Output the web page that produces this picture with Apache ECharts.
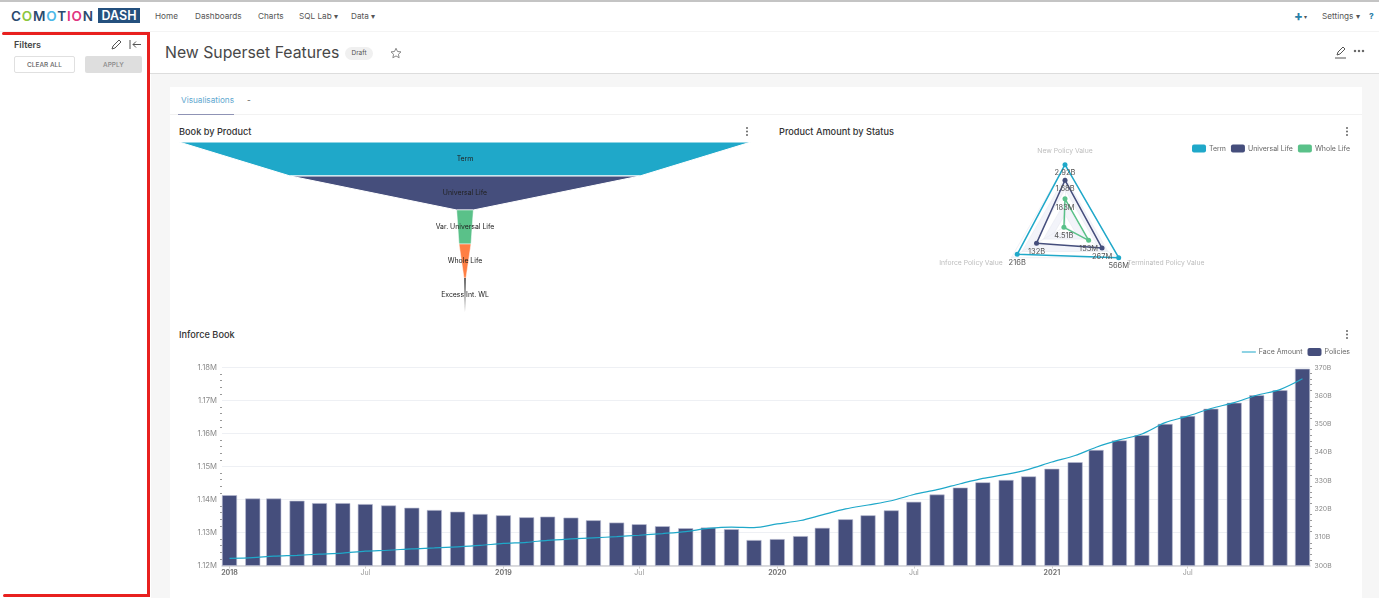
<!DOCTYPE html>
<html><head><meta charset="utf-8">
<script src="https://cdn.jsdelivr.net/npm/echarts@6/dist/echarts.min.js"></script>
<style>
html,body{margin:0;padding:0;width:1379px;height:598px;overflow:hidden;background:#fff;font-family:Inter,"Noto Sans",sans-serif;color:#484848}
.a{position:absolute;white-space:nowrap}
#chart{position:absolute;left:0;top:0;width:1379px;height:598px}
.nav{font-size:8.2px;top:11px;color:#555}
.ttl{font-size:9.2px;font-weight:500;color:#333}
</style></head><body>
<div class="a" style="left:0;top:0;width:1379px;height:2px;background:#c4c4c4"></div>
<div class="a" style="left:0;top:31px;width:1379px;height:1px;background:#f4f4f4"></div>
<div class="a" style="left:150px;top:32px;width:1229px;height:41px;background:#fff;border-bottom:1px solid #ddd"></div>
<div class="a" style="left:151px;top:74px;width:1228px;height:524px;background:#f6f6f6"></div>
<div class="a" style="left:170px;top:87px;width:1192px;height:511px;background:#fff"></div>
<div class="a" style="left:170px;top:114px;width:1192px;height:1px;background:#f2f2f2"></div>
<div class="a" style="left:178px;top:114px;width:56px;height:1px;background:#8f93b5"></div>

<div class="a" style="left:11px;top:8px;font-size:13.5px;font-weight:600;letter-spacing:.85px;color:#2b4a6f"><span>C</span><span style="color:#8cc63f">O</span><span>M</span><span style="color:#4db8e8">O</span><span>T</span><span style="color:#e0357f">I</span><span style="color:#e0357f">O</span><span>N</span></div>
<div class="a" style="left:98px;top:8px;width:42px;height:15px;line-height:15px;background:#24507e;color:#fff;font-size:12.5px;font-weight:600;text-align:center">DASH</div>
<div class="a nav" style="left:155px">Home</div>
<div class="a nav" style="left:195px">Dashboards</div>
<div class="a nav" style="left:258px">Charts</div>
<div class="a nav" style="left:299px">SQL Lab ▾</div>
<div class="a nav" style="left:351px">Data ▾</div>
<div class="a" style="left:1294px;top:8px;font-size:13px;font-weight:800;color:#2b7fa8">+</div>
<div class="a nav" style="left:1304px;font-size:6px;top:13px">▾</div>
<div class="a nav" style="left:1322px">Settings ▾</div>
<div class="a nav" style="left:1369px;font-weight:800;color:#2b7fa8">?</div>

<div class="a" style="left:14px;top:39px;font-size:9px;font-weight:600;color:#444">Filters</div>
<svg class="a" style="left:110px;top:38px" width="32" height="13" viewBox="0 0 32 13" fill="none" stroke="#555" stroke-width="1"><path d="M2 11l1-3 6-6 2 2-6 6z"/><path d="M20 2v9M31 6.500h-8M26 3.500l-3 3 3 3"/></svg>
<div class="a" style="left:14px;top:56px;width:59px;height:15px;line-height:16px;border:1px solid #e0e0e0;border-radius:2px;font-size:6.5px;font-weight:500;text-align:center;color:#666">CLEAR ALL</div>
<div class="a" style="left:85px;top:56px;width:57px;height:17px;line-height:18px;background:#dedede;border-radius:2px;font-size:6.5px;font-weight:500;text-align:center;color:#888">APPLY</div>

<div class="a" style="left:165px;top:43px;font-size:15.8px;color:#484848">New Superset Features</div>
<div class="a" style="left:345px;top:47px;width:28px;height:13px;line-height:13px;border-radius:7px;background:#f0f0f0;border:0;font-size:6.5px;text-align:center;color:#555">Draft</div>
<svg class="a" style="left:390px;top:47px" width="12" height="12" viewBox="0 0 24 24" fill="none" stroke="#888" stroke-width="2"><path d="M12 2.500l3 6.500 7 .8-5.200 4.700 1.500 7L12 17.900 5.700 21.500l1.500-7L2 9.800 9 9z"/></svg>
<svg class="a" style="left:1334px;top:46px" width="34" height="13" viewBox="0 0 34 13" fill="none" stroke="#555" stroke-width="1"><path d="M3 9l1-3 5-5 2 2-5 5zM1 12h11"/><circle cx="21" cy="5" r=".8" fill="#555"/><circle cx="25" cy="5" r=".8" fill="#555"/><circle cx="29" cy="5" r=".8" fill="#555"/></svg>

<div class="a" style="left:181px;top:95px;font-size:8.2px;color:#5fa8cf">Visualisations</div>
<div class="a" style="left:247px;top:95px;font-size:8.2px;color:#555">-</div>
<div class="a ttl" style="left:179px;top:126px">Book by Product</div>
<div class="a ttl" style="left:779px;top:126px">Product Amount by Status</div>
<div class="a ttl" style="left:179px;top:329px">Inforce Book</div>
<svg class="a" style="left:745px;top:126px" width="4" height="11"><g fill="#666"><circle cx="2" cy="2" r="1"/><circle cx="2" cy="5.500" r="1"/><circle cx="2" cy="9" r="1"/></g></svg>
<svg class="a" style="left:1345px;top:126px" width="4" height="11"><g fill="#666"><circle cx="2" cy="2" r="1"/><circle cx="2" cy="5.500" r="1"/><circle cx="2" cy="9" r="1"/></g></svg>
<svg class="a" style="left:1345px;top:329px" width="4" height="11"><g fill="#666"><circle cx="2" cy="2" r="1"/><circle cx="2" cy="5.500" r="1"/><circle cx="2" cy="9" r="1"/></g></svg>

<div id="chart"></div>

<div class="a" style="left:2px;top:32px;width:148px;height:3px;background:#e8201f;border-radius:2px"></div>
<div class="a" style="left:147px;top:32px;width:3px;height:565px;background:#e8201f"></div>
<div class="a" style="left:3px;top:594px;width:147px;height:3px;background:#e8201f;border-radius:2px"></div>

<script>
const months = ['2018/01/01','2018/02/01','2018/03/01','2018/04/01','2018/05/01','2018/06/01','2018/07/01','2018/08/01','2018/09/01','2018/10/01','2018/11/01','2018/12/01',
'2019/01/01','2019/02/01','2019/03/01','2019/04/01','2019/05/01','2019/06/01','2019/07/01','2019/08/01','2019/09/01','2019/10/01','2019/11/01','2019/12/01',
'2020/01/01','2020/02/01','2020/03/01','2020/04/01','2020/05/01','2020/06/01','2020/07/01','2020/08/01','2020/09/01','2020/10/01','2020/11/01','2020/12/01',
'2021/01/01','2021/02/01','2021/03/01','2021/04/01','2021/05/01','2021/06/01','2021/07/01','2021/08/01','2021/09/01','2021/10/01','2021/11/01','2021/12/01'];
const policies = [1141300,1140300,1140300,1139600,1138900,1138900,1138600,1138200,1137500,1136800,1136300,1135600,
1135200,1134600,1134800,1134500,1133700,1133000,1132500,1131900,1131300,1131500,1131000,1127700,
1128000,1128900,1131400,1134000,1135200,1136700,1139300,1141500,1143600,1145200,1145900,1147000,
1149300,1151300,1155000,1157900,1159500,1162900,1165300,1167500,1169300,1171600,1173100,1179600];
const faceAmountB = [302.5,302.8,303.3,303.6,304.0,304.4,305.1,305.4,305.9,306.2,306.6,307.1,
307.8,308.2,308.9,309.4,309.8,310.2,310.7,311.3,312.0,313.1,313.6,313.4,
314.7,315.9,317.9,320.0,321.4,322.9,325.1,326.8,328.9,330.8,332.2,334.0,
336.6,338.9,341.8,344.4,346.5,350.5,352.8,355.5,357.6,360.2,362.2,366.0];
const xTickDates = ['2018/01/01','2018/07/01','2019/01/01','2019/07/01','2020/01/01','2020/07/01','2021/01/01','2021/07/01'];
const xTickLabels = ['2018','Jul','2019','Jul','2020','Jul','2021','Jul'];

const funnelNames = ['Term','Universal Life','Var. Universal Life','Whole Life','Excess Int. WL'];
const funnelValuesB = [216,132,6.3,4.51,0.75];
const funnelColors = ['#1FA8C9','#454E7C','#5AC189','#FF7F44','#666666'];

const radarIndicators = ['New Policy Value','Inforce Policy Value','Terminated Policy Value'];
const radarNames = ['Term','Universal Life','Whole Life'];
const radarColors = ['#1FA8C9','#454E7C','#5AC189'];
const termShare = [100,89,100];
const universalShare = [75,53,69];
const wholeShare = [45,2,44];
const termLabels = ['2.92B','216B','566M'];
const universalLabels = ['1.68B','132B','267M'];
const wholeLabels = ['183M','4.51B','153M'];

const font = 'Inter, "Noto Sans", sans-serif';
const ts = s => new Date(s).getTime();
const tickTimes = xTickDates.map(ts);
const chart = echarts.init(document.getElementById('chart'), null, {renderer:'canvas'});
const radarSeriesData = [[termShare,termLabels],[universalShare,universalLabels],[wholeShare,wholeLabels]].map((p,i)=>({
  name: radarNames[i], value: p[0],
  itemStyle:{color:radarColors[i]}, lineStyle:{color:radarColors[i],width:1.5},
  label:{show:true,position:'bottom',distance:2,fontSize:7.5,fontFamily:font,color:'#555',
    formatter:q=>p[1][q.dimensionIndex]}
}));
const legendText = {fontSize:7,color:'#666',fontFamily:font,padding:[0,0,0,-2]};
chart.setOption({
  animation:false, backgroundColor:'transparent', textStyle:{fontFamily:font},
  legend:[
    {data:radarNames.map(n=>({name:n,icon:'roundRect'})),right:29,top:144.500,padding:0,itemWidth:14,itemHeight:8,itemGap:5,itemStyle:{borderWidth:0},lineStyle:{width:0},textStyle:legendText},
    {data:[{name:'Face Amount',icon:'path://M0 3.400H14V4.600H0ZM0 0H.01V8H0Z'},{name:'Policies',icon:'roundRect'}],right:29,top:348,padding:0,itemWidth:14,itemHeight:8,itemGap:5,itemStyle:{borderWidth:0},textStyle:legendText}
  ],
  grid:{left:222,right:69,top:367.5,height:198},
  xAxis:{type:'value',min:ts('2017/12/22'),max:ts('2021/12/11'),scale:true,
    axisLine:{show:true,onZero:false,lineStyle:{color:'#cfcfd4',width:1.5}},
    axisTick:{show:true,length:3,lineStyle:{color:'#ccc'},customValues:tickTimes},
    splitLine:{show:false},minorTick:{show:false},
    axisLabel:{customValues:tickTimes,margin:4,fontSize:7,color:'#999',hideOverlap:false,showMinLabel:true,showMaxLabel:true,
      formatter:v=>{const l=xTickLabels[tickTimes.indexOf(v)]||'';return l==='Jul'?l:'{y|'+l+'}';},
      rich:{y:{fontSize:7,fontWeight:700,color:'#777',fontFamily:font}}}},
  yAxis:[
    {type:'value',min:1120000,max:1180000,interval:10000,position:'left',
     axisLine:{show:false},axisTick:{show:false},minorTick:{show:true,splitNumber:5,length:2,lineStyle:{color:'#999'}},
     splitLine:{lineStyle:{color:'#eef0f4',width:1}},
     axisLabel:{margin:5,fontSize:7.7,color:'#8a8a8a',formatter:v=>(v/1e6).toFixed(2)+'M'}},
    {type:'value',min:300,max:370,interval:10,position:'right',
     axisLine:{show:false},axisTick:{show:false},minorTick:{show:true,splitNumber:5,length:2,lineStyle:{color:'#999'}},
     splitLine:{show:false},
     axisLabel:{margin:4.5,fontSize:6.8,color:'#8a8a8a',formatter:v=>v+'B'}}
  ],
  radar:{center:[1065,226.7],radius:62,shape:'polygon',splitNumber:5,startAngle:90,
    indicator:radarIndicators.map(n=>({name:n,max:100,min:0})),
    axisName:{color:'#bdbdbd',fontSize:6.8,fontFamily:font},nameGap:10,
    axisLine:{lineStyle:{color:'#e9ebf2',width:.7}},
    splitLine:{lineStyle:{color:'#e9ebf2',width:.7}},
    splitArea:{areaStyle:{color:['#ffffff','#f3f4fa','#ffffff','#f3f4fa','#ffffff']}}},
  series:[
    {type:'radar',symbol:'circle',symbolSize:5,data:radarSeriesData},
    {type:'funnel',left:179,top:142,width:572,height:170,min:0,max:216,minSize:0,maxSize:'100%',sort:'descending',gap:0,
     label:{show:true,position:'inside',color:'#222',fontSize:6.9,fontFamily:font},labelLine:{show:false},
     data:funnelNames.map((n,i)=>({name:n,value:funnelValuesB[i],itemStyle:{color:funnelColors[i],borderColor:'#fff',borderWidth:i<2?1:i<4?.5:0}}))},
    {type:'bar',name:'Policies',yAxisIndex:0,barWidth:15,
     itemStyle:{color:'#454E7C',borderColor:'#b9bcd2',borderWidth:.6},
     data:months.map((m,i)=>[ts(m),policies[i]])},
    {type:'line',name:'Face Amount',yAxisIndex:1,symbol:'none',smooth:.3,z:5,
     lineStyle:{color:'#1FA8C9',width:1.2},itemStyle:{color:'#1FA8C9'},
     data:months.map((m,i)=>[ts(m),faceAmountB[i]])}
  ]
});
</script>
</body></html>
